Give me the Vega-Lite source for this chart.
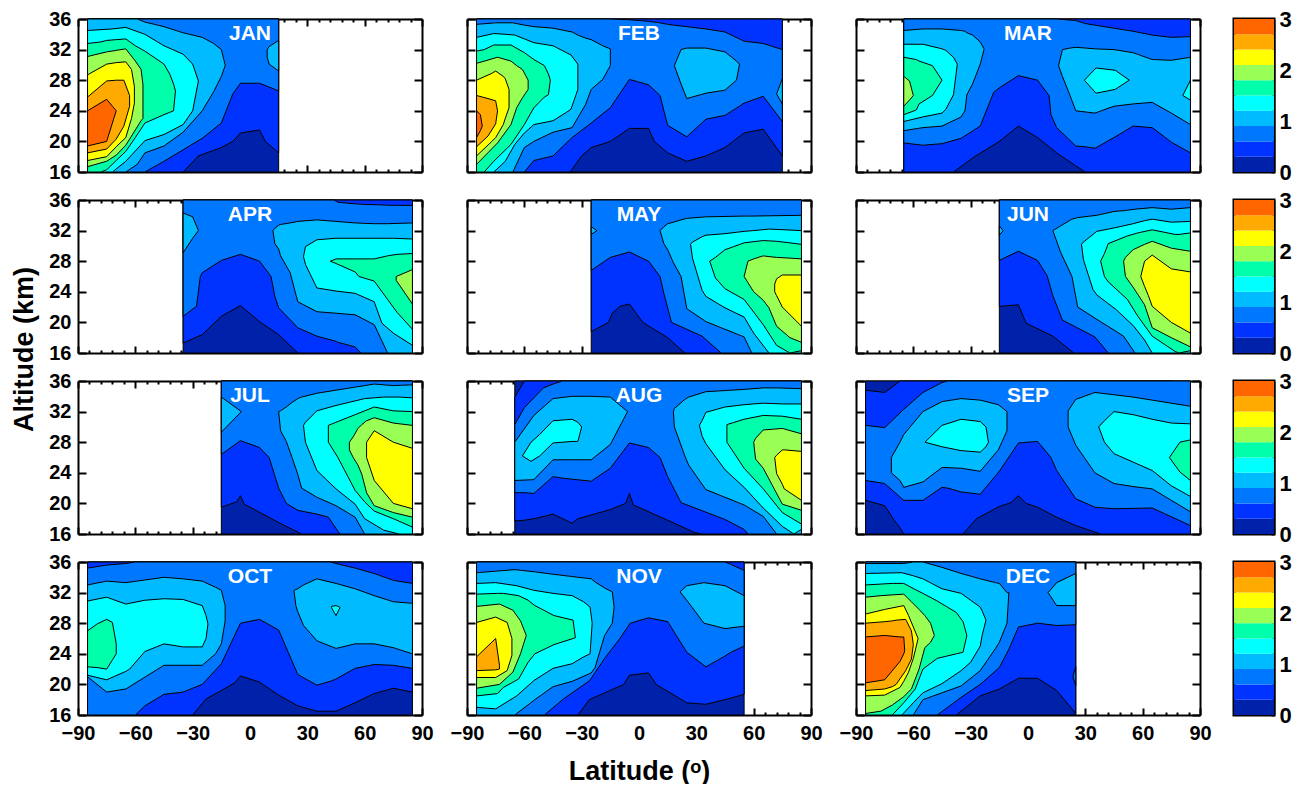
{"$schema":"https://vega.github.io/schema/vega-lite/v6.json","autosize":"pad","padding":{"left":9,"top":6,"right":0,"bottom":0},"background":"white",
"config":{"view":{"stroke":null},"font":"Liberation Sans","axis":{"zindex":1,"grid":false,"labelFlush":false,"labelOverlap":false,"domainColor":"black","domainWidth":2,"tickColor":"black","tickWidth":2,"labelFont":"Liberation Sans","labelFontWeight":"bold","labelFontSize":20,"labelColor":"black","title":null,"titleFont":"Liberation Sans","titleFontWeight":"bold","titleFontSize":27,"titleColor":"black"},"area":{"stroke":"black","strokeWidth":1},"text":{"color":"white","fontWeight":"bold","fontSize":21}},
"datasets":{
"CB":[{"l":0,"a":0,"b":0.3},{"l":1,"a":0.3,"b":0.6},{"l":2,"a":0.6,"b":0.9},{"l":3,"a":0.9,"b":1.2},{"l":4,"a":1.2,"b":1.5},{"l":5,"a":1.5,"b":1.8},{"l":6,"a":1.8,"b":2.1},{"l":7,"a":2.1,"b":2.4},{"l":8,"a":2.4,"b":2.7},{"l":9,"a":2.7,"b":3}],
"JAN":[{"l":0,"x":-85,"a":16,"b":36},{"l":0,"x":15,"a":16,"b":36},
{"l":1,"x":-85,"a":16,"b":36},{"l":1,"x":-35,"a":16,"b":36},{"l":1,"x":-27,"a":18.1,"b":36},{"l":1,"x":-15,"a":19.2,"b":36},{"l":1,"x":-9,"a":20,"b":36},{"l":1,"x":-5,"a":21.1,"b":36},{"l":1,"x":5,"a":21.5,"b":36},{"l":1,"x":8,"a":20,"b":36},{"l":1,"x":15,"a":18.5,"b":36},
{"l":2,"x":-85,"a":16,"b":36},{"l":2,"x":-55,"a":16,"b":36},{"l":2,"x":-45,"a":17.4,"b":36},{"l":2,"x":-35,"a":18.9,"b":36},{"l":2,"x":-25,"a":20.4,"b":36},{"l":2,"x":-15,"a":22.4,"b":36},{"l":2,"x":-9,"a":26.2,"b":36},{"l":2,"x":-5,"a":27.6,"b":36},{"l":2,"x":5,"a":27.6,"b":36},{"l":2,"x":15,"a":26.6,"b":36},
{"l":3,"x":-85,"a":16,"b":36},{"l":3,"x":-65,"a":16,"b":36},{"l":3,"x":-59,"a":17,"b":36},{"l":3,"x":-55,"a":18.5,"b":35.6},{"l":3,"x":-45,"a":19.4,"b":35},{"l":3,"x":-35,"a":21.2,"b":34.2},{"l":3,"x":-25,"a":24,"b":33.6},{"l":3,"x":-19,"a":26.5,"b":32.8},{"l":3,"x":-15,"a":28.5,"b":32},{"l":3,"x":-13,"a":29.9,"b":30},
{"l":3,"s":"b","x":9,"a":31,"b":32},{"l":3,"s":"b","x":10,"a":30.1,"b":32.4},{"l":3,"s":"b","x":15,"a":29.2,"b":33.2},
{"l":4,"x":-85,"a":16,"b":34.5},{"l":4,"x":-72,"a":16,"b":34.7},{"l":4,"x":-65,"a":17.4,"b":34.9},{"l":4,"x":-55,"a":20.1,"b":34},{"l":4,"x":-45,"a":20.9,"b":32.5},{"l":4,"x":-35,"a":22.2,"b":31.4},{"l":4,"x":-30,"a":24,"b":30.1},{"l":4,"x":-27,"a":27.9,"b":27.9},
{"l":5,"x":-85,"a":16,"b":32.8},{"l":5,"x":-78,"a":16,"b":33},{"l":5,"x":-75,"a":16.3,"b":33.2},{"l":5,"x":-70,"a":17.5,"b":33.3},{"l":5,"x":-65,"a":18.7,"b":33.4},{"l":5,"x":-60,"a":20.5,"b":32.5},{"l":5,"x":-55,"a":22.4,"b":31.8},{"l":5,"x":-45,"a":23.5,"b":30.1},{"l":5,"x":-42,"a":23.8,"b":28.8},{"l":5,"x":-40,"a":24,"b":27.5},{"l":5,"x":-39,"a":26.6,"b":26.6},
{"l":6,"x":-85,"a":16.7,"b":31.1},{"l":6,"x":-75,"a":17.4,"b":31.7},{"l":6,"x":-70,"a":18.2,"b":31.9},{"l":6,"x":-65,"a":19.5,"b":32.1},{"l":6,"x":-60,"a":21.5,"b":30.5},{"l":6,"x":-57,"a":22.7,"b":29.4},{"l":6,"x":-56,"a":23,"b":27.4},
{"l":7,"x":-85,"a":17.5,"b":28.7},{"l":7,"x":-75,"a":18,"b":30.1},{"l":7,"x":-70,"a":19.3,"b":30.3},{"l":7,"x":-65,"a":20.5,"b":30.4},{"l":7,"x":-62,"a":23,"b":29.4},{"l":7,"x":-60.5,"a":25,"b":27.2},
{"l":8,"x":-85,"a":18.5,"b":25.8},{"l":8,"x":-75,"a":19,"b":27.9},{"l":8,"x":-70,"a":20.3,"b":28},{"l":8,"x":-66,"a":22,"b":28},{"l":8,"x":-63,"a":24.6,"b":26},
{"l":9,"x":-85,"a":19.4,"b":24},{"l":9,"x":-75,"a":20,"b":25.5},{"l":9,"x":-72,"a":22.4,"b":24.6},{"l":9,"x":-70,"a":24,"b":24}],
"FEB":[{"l":0,"x":-85,"a":16,"b":36},{"l":0,"x":75,"a":16,"b":36},
{"l":1,"x":-85,"a":16,"b":36},{"l":1,"x":-36,"a":16,"b":36},{"l":1,"x":-30,"a":18.1,"b":36},{"l":1,"x":-25,"a":19.2,"b":36},{"l":1,"x":-15,"a":20,"b":36},{"l":1,"x":-5,"a":21.7,"b":36},{"l":1,"x":5,"a":21.7,"b":36},{"l":1,"x":8,"a":20,"b":36},{"l":1,"x":15,"a":18.5,"b":36},{"l":1,"x":25,"a":17.4,"b":36},{"l":1,"x":35,"a":18.1,"b":36},{"l":1,"x":45,"a":19.2,"b":36},{"l":1,"x":55,"a":21.1,"b":36},{"l":1,"x":65,"a":21.6,"b":36},{"l":1,"x":75,"a":18.1,"b":36},
{"l":2,"x":-85,"a":16,"b":36},{"l":2,"x":-60,"a":16,"b":36},{"l":2,"x":-55,"a":17.5,"b":36},{"l":2,"x":-45,"a":18.1,"b":36},{"l":2,"x":-35,"a":20.5,"b":36},{"l":2,"x":-25,"a":22.4,"b":36},{"l":2,"x":-15,"a":24.4,"b":36},{"l":2,"x":-5,"a":28.1,"b":35.9},{"l":2,"x":5,"a":27.4,"b":35.7},{"l":2,"x":11,"a":26,"b":35.5},{"l":2,"x":15,"a":22.1,"b":35.3},{"l":2,"x":25,"a":20.6,"b":35},{"l":2,"x":35,"a":22.9,"b":34.7},{"l":2,"x":45,"a":23.4,"b":34.3},{"l":2,"x":55,"a":25,"b":33.1},{"l":2,"x":65,"a":25.9,"b":32.8},{"l":2,"x":75,"a":22.6,"b":32},
{"l":3,"x":-85,"a":16,"b":35.3},{"l":3,"x":-75,"a":16,"b":35.5},{"l":3,"x":-66,"a":16,"b":35.5},{"l":3,"x":-60,"a":19.2,"b":35.2},{"l":3,"x":-55,"a":20,"b":35},{"l":3,"x":-45,"a":21.2,"b":34.8},{"l":3,"x":-35,"a":21.8,"b":34.3},{"l":3,"x":-32,"a":23.1,"b":33.9},{"l":3,"x":-28,"a":24.8,"b":33.5},{"l":3,"x":-25,"a":26.8,"b":33.3},{"l":3,"x":-19,"a":28.1,"b":32.5},{"l":3,"x":-15,"a":29.9,"b":32.1},
{"l":3,"s":"b","x":18.5,"a":29.9,"b":29.9},{"l":3,"s":"b","x":22,"a":27.5,"b":32},{"l":3,"s":"b","x":25,"a":25.6,"b":32.2},{"l":3,"s":"b","x":35,"a":26.3,"b":32.2},{"l":3,"s":"b","x":45,"a":26.7,"b":31.7},{"l":3,"s":"b","x":51,"a":28,"b":30.5},{"l":3,"s":"b","x":52.6,"a":30.1,"b":30.1},
{"l":3,"s":"c","x":72,"a":26.2,"b":26.2},{"l":3,"s":"c","x":75,"a":24.9,"b":28.2},
{"l":4,"x":-85,"a":16,"b":33.6},{"l":4,"x":-76,"a":16,"b":34.1},{"l":4,"x":-70,"a":17.4,"b":34},{"l":4,"x":-65,"a":19.6,"b":33.9},{"l":4,"x":-60,"a":21.1,"b":33.4},{"l":4,"x":-55,"a":22.2,"b":32.9},{"l":4,"x":-45,"a":22.7,"b":32.5},{"l":4,"x":-38,"a":23.8,"b":31.6},{"l":4,"x":-35.6,"a":24.2,"b":31.3},{"l":4,"x":-32,"a":26.8,"b":30.1},
{"l":5,"x":-85,"a":16,"b":31.8},{"l":5,"x":-81,"a":16,"b":32},{"l":5,"x":-76,"a":17.4,"b":32.6},{"l":5,"x":-67,"a":19.6,"b":32.6},{"l":5,"x":-60,"a":22.2,"b":31.6},{"l":5,"x":-55,"a":24.4,"b":30.7},{"l":5,"x":-49.5,"a":25.8,"b":29.9},{"l":5,"x":-47.4,"a":26.1,"b":28.8},{"l":5,"x":-46.4,"a":28,"b":28},
{"l":6,"x":-85,"a":17,"b":30.2},{"l":6,"x":-74,"a":19.8,"b":31},{"l":6,"x":-67,"a":22.2,"b":30.5},{"l":6,"x":-64,"a":24.4,"b":29.9},{"l":6,"x":-61,"a":25.7,"b":29.4},{"l":6,"x":-58,"a":26.8,"b":28},
{"l":7,"x":-85,"a":18.1,"b":28},{"l":7,"x":-77,"a":20,"b":28.9},{"l":7,"x":-75,"a":20.5,"b":29.2},{"l":7,"x":-71,"a":22.2,"b":28.5},{"l":7,"x":-70,"a":23,"b":28.2},{"l":7,"x":-68,"a":24.4,"b":26.8},
{"l":8,"x":-85,"a":19.3,"b":26},{"l":8,"x":-79,"a":20.7,"b":25.6},{"l":8,"x":-75,"a":22.3,"b":25.3},{"l":8,"x":-74,"a":24,"b":24},
{"l":9,"x":-85,"a":20.5,"b":24},{"l":9,"x":-83,"a":21.4,"b":23.5},{"l":9,"x":-82,"a":22,"b":22}],
"MAR":[{"l":0,"x":-65,"a":16,"b":36},{"l":0,"x":85,"a":16,"b":36},
{"l":1,"x":-65,"a":16,"b":36},{"l":1,"x":-39,"a":16,"b":36},{"l":1,"x":-28,"a":18,"b":36},{"l":1,"x":-15,"a":20,"b":36},{"l":1,"x":-5,"a":22,"b":36},{"l":1,"x":5,"a":20.5,"b":36},{"l":1,"x":15,"a":18.5,"b":36},{"l":1,"x":25,"a":16.8,"b":36},{"l":1,"x":30,"a":16,"b":36},{"l":1,"x":85,"a":16,"b":36},
{"l":2,"x":-65,"a":19.8,"b":36},{"l":2,"x":-55,"a":19.5,"b":36},{"l":2,"x":-45,"a":19.7,"b":36},{"l":2,"x":-35,"a":20.4,"b":36},{"l":2,"x":-25,"a":22,"b":36},{"l":2,"x":-18,"a":26.4,"b":36},{"l":2,"x":-15,"a":27,"b":36},{"l":2,"x":-5,"a":28.6,"b":36},{"l":2,"x":5,"a":28,"b":36},{"l":2,"x":11,"a":26,"b":36},{"l":2,"x":12,"a":23.5,"b":36},{"l":2,"x":15,"a":21.8,"b":36},{"l":2,"x":25,"a":19.4,"b":35.8},{"l":2,"x":30,"a":19.3,"b":35.4},{"l":2,"x":35,"a":19.1,"b":35.2},{"l":2,"x":45,"a":20.5,"b":34.8},{"l":2,"x":55,"a":22,"b":34.4},{"l":2,"x":65,"a":21.8,"b":33.9},{"l":2,"x":75,"a":19.9,"b":33.6},{"l":2,"x":85,"a":18.5,"b":33.7},
{"l":3,"x":-65,"a":21.4,"b":34.5},{"l":3,"x":-55,"a":21.8,"b":34.7},{"l":3,"x":-45,"a":22,"b":34.7},{"l":3,"x":-35,"a":23.2,"b":34.5},{"l":3,"x":-33,"a":24,"b":34.4},{"l":3,"x":-32,"a":26.1,"b":34.2},{"l":3,"x":-29,"a":27.5,"b":33.9},{"l":3,"x":-25,"a":30.1,"b":33},{"l":3,"x":-23,"a":32,"b":32.1},
{"l":3,"s":"b","x":16,"a":29.9,"b":29.9},{"l":3,"s":"b","x":18,"a":28.5,"b":32},{"l":3,"s":"b","x":22,"a":26,"b":32.2},{"l":3,"s":"b","x":25,"a":24,"b":32.3},{"l":3,"s":"b","x":35,"a":23.7,"b":32.1},{"l":3,"s":"b","x":45,"a":24.6,"b":32},{"l":3,"s":"b","x":55,"a":24.9,"b":31.6},{"l":3,"s":"b","x":65,"a":25.1,"b":30.7},{"l":3,"s":"b","x":75,"a":23.7,"b":30.6},{"l":3,"s":"b","x":85,"a":22.2,"b":31},
{"l":4,"x":-65,"a":22.6,"b":32.7},{"l":4,"x":-55,"a":23.2,"b":32.7},{"l":4,"x":-45,"a":23.7,"b":32.1},{"l":4,"x":-43,"a":24.2,"b":31.9},{"l":4,"x":-39,"a":26.1,"b":31},{"l":4,"x":-37,"a":30.1,"b":30.1},
{"l":4,"s":"b","x":29.5,"a":28,"b":28},{"l":4,"s":"b","x":35.6,"a":26.3,"b":29.6},{"l":4,"s":"b","x":45.6,"a":26.8,"b":29.3},{"l":4,"s":"b","x":53,"a":28,"b":28},
{"l":4,"s":"c","x":81,"a":26,"b":26},{"l":4,"s":"c","x":85,"a":25.4,"b":28},
{"l":5,"x":-65,"a":23.5,"b":31},{"l":5,"x":-58.5,"a":24.1,"b":30.7},{"l":5,"x":-57,"a":24.9,"b":30.5},{"l":5,"x":-50,"a":26,"b":29.9},{"l":5,"x":-45,"a":28,"b":28},
{"l":6,"x":-65,"a":24.6,"b":28.5},{"l":6,"x":-62,"a":25.4,"b":27.9},{"l":6,"x":-60,"a":26,"b":26}],
"APR":[{"l":0,"x":-35,"a":16,"b":36},{"l":0,"x":85,"a":16,"b":36},
{"l":1,"x":-35,"a":17.3,"b":36},{"l":1,"x":-25,"a":18.4,"b":36},{"l":1,"x":-15,"a":20.8,"b":36},{"l":1,"x":-5,"a":22.2,"b":36},{"l":1,"x":5,"a":20.1,"b":36},{"l":1,"x":15,"a":18.4,"b":36},{"l":1,"x":25,"a":16,"b":36},{"l":1,"x":85,"a":16,"b":36},
{"l":2,"x":-35,"a":20.8,"b":36},{"l":2,"x":-28,"a":22.1,"b":36},{"l":2,"x":-26,"a":26,"b":36},{"l":2,"x":-25,"a":26.5,"b":36},{"l":2,"x":-15,"a":28.1,"b":36},{"l":2,"x":-5,"a":28.9,"b":36},{"l":2,"x":5,"a":28,"b":36},{"l":2,"x":11,"a":26,"b":36},{"l":2,"x":13,"a":23.4,"b":36},{"l":2,"x":15,"a":21.9,"b":36},{"l":2,"x":25,"a":19.3,"b":36},{"l":2,"x":35,"a":18.2,"b":36},{"l":2,"x":44,"a":17.6,"b":36},{"l":2,"x":46,"a":17.4,"b":35.7},{"l":2,"x":55,"a":16.8,"b":35.5},{"l":2,"x":58,"a":16,"b":35.45},{"l":2,"x":75,"a":16,"b":35.3},{"l":2,"x":85,"a":16,"b":35.3},
{"l":3,"x":-35,"a":29.1,"b":34.3},{"l":3,"x":-30,"a":31,"b":33.8},{"l":3,"x":-27,"a":32,"b":32},
{"l":3,"s":"b","x":12,"a":32,"b":32},{"l":3,"s":"b","x":13,"a":30.3,"b":32.3},{"l":3,"s":"b","x":15,"a":29.6,"b":32.7},{"l":3,"s":"b","x":16,"a":28.7,"b":32.8},{"l":3,"s":"b","x":21,"a":26.5,"b":33},{"l":3,"s":"b","x":25,"a":22.7,"b":33.2},{"l":3,"s":"b","x":35,"a":21.4,"b":33.4},{"l":3,"s":"b","x":55,"a":21,"b":33},{"l":3,"s":"b","x":65,"a":19.7,"b":32.9},{"l":3,"s":"b","x":72,"a":16,"b":32.9},{"l":3,"s":"b","x":85,"a":16,"b":33},
{"l":4,"x":28,"a":28.6,"b":28.6},{"l":4,"x":29,"a":27.6,"b":29.9},{"l":4,"x":35,"a":24.5,"b":30.8},{"l":4,"x":45,"a":24.1,"b":31},{"l":4,"x":55,"a":23.8,"b":31},{"l":4,"x":65,"a":22.7,"b":31},{"l":4,"x":69,"a":19.9,"b":31},{"l":4,"x":75,"a":18.6,"b":31},{"l":4,"x":85,"a":17,"b":30.9},
{"l":5,"x":42,"a":28,"b":28},{"l":5,"x":45,"a":27.7,"b":28.3},{"l":5,"x":55,"a":26.6,"b":28.3},{"l":5,"x":57,"a":26,"b":28.3},{"l":5,"x":65,"a":25.4,"b":28.3},{"l":5,"x":72,"a":23,"b":28.7},{"l":5,"x":77,"a":21.3,"b":28.9},{"l":5,"x":85,"a":19.1,"b":29},
{"l":6,"x":76.5,"a":25.5,"b":26},{"l":6,"x":85,"a":22.4,"b":26.9}],
"MAY":[{"l":0,"x":-25,"a":16,"b":36},{"l":0,"x":85,"a":16,"b":36},
{"l":1,"x":-25,"a":18.8,"b":36},{"l":1,"x":-16,"a":20,"b":36},{"l":1,"x":-14,"a":21.2,"b":36},{"l":1,"x":-10,"a":22.1,"b":36},{"l":1,"x":-5,"a":22.4,"b":36},{"l":1,"x":2,"a":20,"b":36},{"l":1,"x":15,"a":18,"b":36},{"l":1,"x":24,"a":16,"b":36},{"l":1,"x":85,"a":16,"b":36},
{"l":2,"x":-25,"a":26.8,"b":36},{"l":2,"x":-15,"a":28.5,"b":36},{"l":2,"x":-5,"a":29.2,"b":36},{"l":2,"x":5,"a":28,"b":36},{"l":2,"x":11,"a":26,"b":36},{"l":2,"x":13,"a":23.8,"b":36},{"l":2,"x":17,"a":20,"b":36},{"l":2,"x":33,"a":18.2,"b":36},{"l":2,"x":43,"a":16,"b":36},{"l":2,"x":85,"a":16,"b":36},
{"l":3,"x":-25,"a":31.5,"b":32.5},{"l":3,"x":-22,"a":32,"b":32},
{"l":3,"s":"b","x":11,"a":32,"b":32},{"l":3,"s":"b","x":13,"a":30.3,"b":32.5},{"l":3,"s":"b","x":15,"a":29.5,"b":32.9},{"l":3,"s":"b","x":18,"a":27.8,"b":33.1},{"l":3,"s":"b","x":22,"a":26,"b":33.4},{"l":3,"s":"b","x":25,"a":21.8,"b":33.6},{"l":3,"s":"b","x":35,"a":20.1,"b":33.8},{"l":3,"s":"b","x":55,"a":18.1,"b":33.9},{"l":3,"s":"b","x":59,"a":16,"b":33.9},{"l":3,"s":"b","x":85,"a":16,"b":34},
{"l":4,"x":27,"a":30.2,"b":30.2},{"l":4,"x":28,"a":28.4,"b":30.5},{"l":4,"x":33,"a":24.2,"b":31.2},{"l":4,"x":35,"a":23.4,"b":31.4},{"l":4,"x":45,"a":21.9,"b":31.6},{"l":4,"x":55,"a":20.7,"b":31.9},{"l":4,"x":60,"a":18.6,"b":32},{"l":4,"x":68,"a":16,"b":32.2},{"l":4,"x":85,"a":16,"b":32},
{"l":5,"x":37,"a":28,"b":28},{"l":5,"x":40,"a":25.8,"b":28.5},{"l":5,"x":45,"a":24.4,"b":29.5},{"l":5,"x":55,"a":23,"b":30.4},{"l":5,"x":65,"a":19.7,"b":30.7},{"l":5,"x":72,"a":17,"b":30.6},{"l":5,"x":79,"a":16,"b":30.4},{"l":5,"x":85,"a":16.3,"b":30.2},
{"l":6,"x":55,"a":26,"b":26},{"l":6,"x":57,"a":25.2,"b":28},{"l":6,"x":60,"a":24,"b":28.3},{"l":6,"x":65,"a":22.9,"b":28.7},{"l":6,"x":68,"a":21.9,"b":28.6},{"l":6,"x":72,"a":19.5,"b":28.5},{"l":6,"x":79,"a":18,"b":28.4},{"l":6,"x":85,"a":17.4,"b":28.3},
{"l":7,"x":71,"a":24,"b":25},{"l":7,"x":72,"a":23.5,"b":25.7},{"l":7,"x":75,"a":22,"b":26.2},{"l":7,"x":85,"a":19.5,"b":26.2}],
"JUN":[{"l":0,"x":-15,"a":16,"b":36},{"l":0,"x":85,"a":16,"b":36},
{"l":1,"x":-15,"a":22.1,"b":36},{"l":1,"x":-5,"a":22.3,"b":36},{"l":1,"x":-1,"a":19.9,"b":36},{"l":1,"x":13,"a":18.2,"b":36},{"l":1,"x":24,"a":16,"b":36},{"l":1,"x":85,"a":16,"b":36},
{"l":2,"x":-15,"a":28.1,"b":36},{"l":2,"x":-5,"a":29.3,"b":36},{"l":2,"x":5,"a":28.1,"b":36},{"l":2,"x":10,"a":26.1,"b":36},{"l":2,"x":13,"a":23.5,"b":36},{"l":2,"x":18,"a":20.3,"b":36},{"l":2,"x":35,"a":18.1,"b":36},{"l":2,"x":42,"a":16,"b":36},{"l":2,"x":85,"a":16,"b":36},
{"l":3,"x":-15,"a":31.4,"b":32.6},{"l":3,"x":-13,"a":32,"b":32},
{"l":3,"s":"b","x":13,"a":32,"b":32},{"l":3,"s":"b","x":17,"a":29.2,"b":32.6},{"l":3,"s":"b","x":23,"a":26,"b":33.5},{"l":3,"s":"b","x":26,"a":22,"b":33.7},{"l":3,"s":"b","x":36,"a":20.4,"b":34},{"l":3,"s":"b","x":45,"a":19,"b":34.5},{"l":3,"s":"b","x":50,"a":18.2,"b":34.6},{"l":3,"s":"b","x":56,"a":16,"b":34.8},{"l":3,"s":"b","x":65,"a":16,"b":35},{"l":3,"s":"b","x":75,"a":16,"b":34.8},{"l":3,"s":"b","x":85,"a":16,"b":35},
{"l":4,"x":28,"a":30.2,"b":30.2},{"l":4,"x":29,"a":28.2,"b":30.5},{"l":4,"x":34,"a":24.3,"b":31.5},{"l":4,"x":36,"a":23.6,"b":31.9},{"l":4,"x":46,"a":21.7,"b":32.4},{"l":4,"x":55,"a":19.6,"b":32.9},{"l":4,"x":61,"a":17.7,"b":33.3},{"l":4,"x":65,"a":16,"b":33.5},{"l":4,"x":75,"a":16,"b":33.1},{"l":4,"x":85,"a":16,"b":33.2},
{"l":5,"x":38,"a":28,"b":28},{"l":5,"x":40,"a":26,"b":29},{"l":5,"x":42,"a":25.3,"b":30.3},{"l":5,"x":52,"a":23,"b":31.3},{"l":5,"x":57.5,"a":20.8,"b":31.7},{"l":5,"x":65,"a":18.2,"b":32.1},{"l":5,"x":77,"a":16.2,"b":31.5},{"l":5,"x":79,"a":16,"b":31.5},{"l":5,"x":85,"a":16.3,"b":31.7},
{"l":6,"x":50,"a":28,"b":28},{"l":6,"x":51,"a":26,"b":28.5},{"l":6,"x":55,"a":24.6,"b":29.5},{"l":6,"x":61,"a":22.3,"b":30.2},{"l":6,"x":65,"a":19.3,"b":30.6},{"l":6,"x":75,"a":18,"b":29.7},{"l":6,"x":85,"a":16.8,"b":29.3},
{"l":7,"x":59,"a":26,"b":26},{"l":7,"x":61,"a":24.7,"b":28},{"l":7,"x":63,"a":23.5,"b":28.4},{"l":7,"x":65,"a":22.1,"b":28.8},{"l":7,"x":75,"a":20,"b":27},{"l":7,"x":85,"a":18.6,"b":26.6}],
"JUL":[{"l":0,"x":-15,"a":16,"b":36},{"l":0,"x":85,"a":16,"b":36},
{"l":1,"x":-15,"a":19.5,"b":36},{"l":1,"x":-7,"a":20.2,"b":36},{"l":1,"x":-5,"a":21,"b":36},{"l":1,"x":-3,"a":19.9,"b":36},{"l":1,"x":15,"a":17.5,"b":36},{"l":1,"x":27,"a":16,"b":36},{"l":1,"x":85,"a":16,"b":36},
{"l":2,"x":-15,"a":26.4,"b":36},{"l":2,"x":-5,"a":28.2,"b":36},{"l":2,"x":5,"a":27.3,"b":36},{"l":2,"x":10,"a":26,"b":36},{"l":2,"x":15,"a":22,"b":36},{"l":2,"x":19,"a":20,"b":36},{"l":2,"x":25,"a":19.1,"b":36},{"l":2,"x":35,"a":18.6,"b":36},{"l":2,"x":41,"a":18.2,"b":36},{"l":2,"x":47,"a":16,"b":36},{"l":2,"x":85,"a":16,"b":36},
{"l":3,"x":-15,"a":29.3,"b":33.9},{"l":3,"x":-4.5,"a":32,"b":32},
{"l":3,"s":"b","x":15,"a":32,"b":32},{"l":3,"s":"b","x":16,"a":29.5,"b":32.1},{"l":3,"s":"b","x":19,"a":28.1,"b":32.6},{"l":3,"s":"b","x":22,"a":26,"b":33.2},{"l":3,"s":"b","x":25,"a":23.8,"b":33.7},{"l":3,"s":"b","x":27,"a":22,"b":33.9},{"l":3,"s":"b","x":35,"a":20.8,"b":34.4},{"l":3,"s":"b","x":45,"a":19.7,"b":34.8},{"l":3,"s":"b","x":55,"a":18.2,"b":35.2},{"l":3,"s":"b","x":60,"a":16,"b":35.4},{"l":3,"s":"b","x":65,"a":16,"b":35.6},{"l":3,"s":"b","x":75,"a":16,"b":35.4},{"l":3,"s":"b","x":85,"a":16,"b":35.5},
{"l":4,"x":28,"a":30.2,"b":30.2},{"l":4,"x":29,"a":28,"b":30.6},{"l":4,"x":35,"a":24.3,"b":32.1},{"l":4,"x":45,"a":21.9,"b":32.8},{"l":4,"x":55,"a":19.9,"b":33.4},{"l":4,"x":60,"a":18,"b":33.7},{"l":4,"x":70,"a":16.5,"b":33.9},{"l":4,"x":78,"a":16,"b":33.9},{"l":4,"x":85,"a":16,"b":33.8},
{"l":5,"x":41,"a":28,"b":30.2},{"l":5,"x":46,"a":26,"b":30.7},{"l":5,"x":55,"a":21.7,"b":31.6},{"l":5,"x":60,"a":20.2,"b":32.1},{"l":5,"x":65,"a":19,"b":32.6},{"l":5,"x":75,"a":18,"b":32.1},{"l":5,"x":85,"a":16.9,"b":32},
{"l":6,"x":52,"a":27,"b":28},{"l":6,"x":54,"a":26,"b":28.7},{"l":6,"x":56.5,"a":25,"b":29.8},{"l":6,"x":58.5,"a":23.8,"b":30.3},{"l":6,"x":61,"a":21.4,"b":30.8},{"l":6,"x":65,"a":19.7,"b":31.2},{"l":6,"x":75,"a":18.8,"b":30.5},{"l":6,"x":85,"a":18.2,"b":30.2},
{"l":7,"x":61,"a":26,"b":28},{"l":7,"x":65,"a":23,"b":29.5},{"l":7,"x":75,"a":20,"b":28},{"l":7,"x":85,"a":19.3,"b":27.2}],
"AUG":[{"l":0,"x":-65,"a":16,"b":36},{"l":0,"x":85,"a":16,"b":36},
{"l":1,"x":-65,"a":17.7,"b":33.9},{"l":1,"x":-60,"a":17.8,"b":36},{"l":1,"x":-55,"a":18,"b":36},{"l":1,"x":-45,"a":18.6,"b":36},{"l":1,"x":-35,"a":17.4,"b":36},{"l":1,"x":-32,"a":18,"b":36},{"l":1,"x":-15,"a":19.2,"b":36},{"l":1,"x":-7,"a":20,"b":36},{"l":1,"x":-5,"a":21.3,"b":36},{"l":1,"x":-3,"a":19.8,"b":36},{"l":1,"x":15,"a":17.8,"b":36},{"l":1,"x":29,"a":16.2,"b":36},{"l":1,"x":33,"a":16,"b":36},{"l":1,"x":85,"a":16,"b":36},
{"l":2,"x":-65,"a":21.4,"b":30.3},{"l":2,"x":-60,"a":21.4,"b":32.5},{"l":2,"x":-55,"a":21.3,"b":33.8},{"l":2,"x":-50,"a":22.4,"b":35.1},{"l":2,"x":-45,"a":23.5,"b":35.6},{"l":2,"x":-40,"a":23.3,"b":36},{"l":2,"x":-25,"a":22.9,"b":36},{"l":2,"x":-15,"a":24.6,"b":36},{"l":2,"x":-5,"a":27.9,"b":36},{"l":2,"x":5,"a":27.3,"b":36},{"l":2,"x":11,"a":26,"b":36},{"l":2,"x":15,"a":23.5,"b":36},{"l":2,"x":22,"a":20.1,"b":36},{"l":2,"x":45,"a":17.9,"b":36},{"l":2,"x":55,"a":16.6,"b":36},{"l":2,"x":57,"a":16,"b":36},{"l":2,"x":85,"a":16,"b":36},
{"l":3,"x":-65,"a":23,"b":28},{"l":3,"x":-55,"a":23.1,"b":31.5},{"l":3,"x":-45,"a":25.7,"b":33.7},{"l":3,"x":-35,"a":25.7,"b":34},{"l":3,"x":-25,"a":25.7,"b":34},{"l":3,"x":-15,"a":27.7,"b":33.9},{"l":3,"x":-6,"a":32,"b":32},
{"l":3,"s":"b","x":18,"a":32,"b":32},{"l":3,"s":"b","x":18.5,"a":30,"b":32.4},{"l":3,"s":"b","x":24,"a":26.2,"b":33.6},{"l":3,"s":"b","x":26,"a":25,"b":33.9},{"l":3,"s":"b","x":35,"a":21.8,"b":34.6},{"l":3,"s":"b","x":55,"a":19.8,"b":34.9},{"l":3,"s":"b","x":65,"a":18.3,"b":35.1},{"l":3,"s":"b","x":72,"a":16,"b":35.1},{"l":3,"s":"b","x":85,"a":16,"b":35},
{"l":4,"x":-61,"a":26.2,"b":26.2},{"l":4,"x":-56.5,"a":25.5,"b":28},{"l":4,"x":-52,"a":26.2,"b":29},{"l":4,"x":-45,"a":27.9,"b":30.8},{"l":4,"x":-35,"a":28.1,"b":31},{"l":4,"x":-32,"a":28.1,"b":30.6},{"l":4,"x":-30,"a":30,"b":30},
{"l":4,"s":"b","x":31.6,"a":30.2,"b":30.2},{"l":4,"s":"b","x":33,"a":28.8,"b":30.8},{"l":4,"s":"b","x":35,"a":27.8,"b":31.9},{"l":4,"s":"b","x":45,"a":24.4,"b":32.6},{"l":4,"s":"b","x":55,"a":22.1,"b":32.9},{"l":4,"s":"b","x":65,"a":19.4,"b":33.1},{"l":4,"s":"b","x":75,"a":17,"b":33},{"l":4,"s":"b","x":81,"a":16,"b":33},{"l":4,"s":"b","x":85,"a":16.6,"b":33},
{"l":5,"x":46,"a":28,"b":30.3},{"l":5,"x":55,"a":24.6,"b":31},{"l":5,"x":65,"a":21.9,"b":31.5},{"l":5,"x":75,"a":18.8,"b":31.4},{"l":5,"x":85,"a":17.3,"b":31},
{"l":6,"x":60,"a":28,"b":28},{"l":6,"x":61,"a":25.8,"b":28.5},{"l":6,"x":65,"a":24.6,"b":29.6},{"l":6,"x":75,"a":19.9,"b":29.8},{"l":6,"x":85,"a":19.1,"b":29.1},
{"l":7,"x":71,"a":26,"b":26},{"l":7,"x":72,"a":23.9,"b":26.3},{"l":7,"x":75,"a":22.5,"b":27},{"l":7,"x":76,"a":21.9,"b":27},{"l":7,"x":85,"a":20.4,"b":26.8}],
"SEP":[{"l":0,"x":-85,"a":16,"b":36},{"l":0,"x":85,"a":16,"b":36},
{"l":1,"x":-85,"a":20.4,"b":34.8},{"l":1,"x":-75,"a":19.7,"b":34.5},{"l":1,"x":-70,"a":17.8,"b":35.4},{"l":1,"x":-67,"a":16.8,"b":36},{"l":1,"x":-65,"a":16,"b":36},{"l":1,"x":-34,"a":16,"b":36},{"l":1,"x":-27,"a":18,"b":36},{"l":1,"x":-15,"a":19.6,"b":36},{"l":1,"x":-9,"a":20.1,"b":36},{"l":1,"x":-5,"a":21,"b":36},{"l":1,"x":-1,"a":20,"b":36},{"l":1,"x":5,"a":19.5,"b":36},{"l":1,"x":15,"a":18.2,"b":36},{"l":1,"x":25,"a":17.1,"b":36},{"l":1,"x":38,"a":16,"b":36},{"l":1,"x":75,"a":16,"b":36},{"l":1,"x":85,"a":16,"b":35.2},
{"l":2,"x":-85,"a":23,"b":30.2},{"l":2,"x":-75,"a":22.6,"b":29.9},{"l":2,"x":-65,"a":20.4,"b":32.3},{"l":2,"x":-55,"a":20.4,"b":34.5},{"l":2,"x":-45,"a":22.1,"b":35.8},{"l":2,"x":-42,"a":22,"b":36},{"l":2,"x":-35,"a":21.5,"b":36},{"l":2,"x":-25,"a":21.2,"b":36},{"l":2,"x":-15,"a":24.2,"b":36},{"l":2,"x":-5,"a":27.9,"b":36},{"l":2,"x":5,"a":28.1,"b":36},{"l":2,"x":12,"a":26,"b":36},{"l":2,"x":15,"a":24.3,"b":36},{"l":2,"x":25,"a":20.6,"b":36},{"l":2,"x":35,"a":19.5,"b":36},{"l":2,"x":45,"a":19.3,"b":36},{"l":2,"x":65,"a":19.4,"b":36},{"l":2,"x":85,"a":17.1,"b":36},
{"l":3,"x":-71.5,"a":24,"b":26},{"l":3,"x":-67,"a":23,"b":28},{"l":3,"x":-65,"a":22.1,"b":29},{"l":3,"x":-55,"a":22.8,"b":32},{"l":3,"x":-45,"a":24.7,"b":33.3},{"l":3,"x":-35,"a":24.6,"b":33.7},{"l":3,"x":-25,"a":24.2,"b":33.5},{"l":3,"x":-15.5,"a":27,"b":32.9},{"l":3,"x":-11,"a":29.5,"b":32},
{"l":3,"s":"b","x":21,"a":30,"b":32.1},{"l":3,"s":"b","x":25,"a":27.6,"b":33.6},{"l":3,"s":"b","x":35,"a":24,"b":34.5},{"l":3,"s":"b","x":45,"a":22.6,"b":34.2},{"l":3,"s":"b","x":55,"a":22.2,"b":33.9},{"l":3,"s":"b","x":65,"a":21.9,"b":33.5},{"l":3,"s":"b","x":85,"a":18.9,"b":32.7},
{"l":4,"x":-53.9,"a":28,"b":28},{"l":4,"x":-45,"a":27.4,"b":30.2},{"l":4,"x":-35,"a":26.9,"b":31},{"l":4,"x":-25,"a":26.7,"b":30.7},{"l":4,"x":-22,"a":27.4,"b":30},{"l":4,"x":-20.7,"a":28,"b":28},
{"l":4,"s":"b","x":37,"a":30,"b":30},{"l":4,"s":"b","x":40,"a":28,"b":30.8},{"l":4,"s":"b","x":45,"a":26.5,"b":32},{"l":4,"s":"b","x":55,"a":25.4,"b":31.6},{"l":4,"s":"b","x":65,"a":24.3,"b":31},{"l":4,"s":"b","x":75,"a":22.3,"b":30.5},{"l":4,"s":"b","x":85,"a":20.9,"b":30.4},
{"l":5,"x":74,"a":26,"b":26},{"l":5,"x":79.5,"a":24.1,"b":28},{"l":5,"x":85,"a":23,"b":28.3}],
"OCT":[{"l":0,"x":-85,"a":16,"b":36},{"l":0,"x":85,"a":16,"b":36},
{"l":1,"x":-85,"a":16,"b":36},{"l":1,"x":-30,"a":16,"b":36},{"l":1,"x":-23,"a":18.1,"b":36},{"l":1,"x":-15,"a":19.2,"b":36},{"l":1,"x":-8,"a":20.2,"b":36},{"l":1,"x":-5,"a":21.1,"b":36},{"l":1,"x":5,"a":20.3,"b":36},{"l":1,"x":15,"a":18.6,"b":36},{"l":1,"x":25,"a":17.2,"b":36},{"l":1,"x":35,"a":16.5,"b":36},{"l":1,"x":45,"a":16.5,"b":36},{"l":1,"x":55,"a":17.6,"b":36},{"l":1,"x":65,"a":18.8,"b":36},{"l":1,"x":75,"a":19.5,"b":36},{"l":1,"x":85,"a":19,"b":36},
{"l":2,"x":-85,"a":16,"b":35.2},{"l":2,"x":-75,"a":16,"b":35.6},{"l":2,"x":-65,"a":16,"b":35.8},{"l":2,"x":-60,"a":16,"b":36},{"l":2,"x":-55,"a":17.2,"b":36},{"l":2,"x":-45,"a":18.7,"b":36},{"l":2,"x":-35,"a":19,"b":36},{"l":2,"x":-25,"a":20,"b":36},{"l":2,"x":-15,"a":22.7,"b":36},{"l":2,"x":-5,"a":28,"b":36},{"l":2,"x":5,"a":28.5,"b":36},{"l":2,"x":15,"a":27.1,"b":36},{"l":2,"x":20,"a":24.2,"b":36},{"l":2,"x":25,"a":21.3,"b":36},{"l":2,"x":35,"a":19.9,"b":36},{"l":2,"x":42,"a":20.4,"b":36},{"l":2,"x":45,"a":20.7,"b":35.8},{"l":2,"x":55,"a":22.1,"b":35.2},{"l":2,"x":65,"a":22.6,"b":34.5},{"l":2,"x":75,"a":22.5,"b":33.6},{"l":2,"x":85,"a":22.1,"b":33.2},
{"l":3,"x":-85,"a":21,"b":33},{"l":3,"x":-75,"a":19,"b":33.5},{"l":3,"x":-65,"a":19.4,"b":33.3},{"l":3,"x":-45,"a":22.5,"b":34},{"l":3,"x":-35,"a":22.5,"b":33.8},{"l":3,"x":-25,"a":22.5,"b":33.5},{"l":3,"x":-18,"a":24,"b":32.7},{"l":3,"x":-15,"a":25.3,"b":32.3},{"l":3,"x":-13,"a":28.3,"b":30.3},
{"l":3,"s":"b","x":23,"a":32.3,"b":32.3},{"l":3,"s":"b","x":24,"a":30.3,"b":32.4},{"l":3,"s":"b","x":25,"a":29.5,"b":32.5},{"l":3,"s":"b","x":28,"a":27.7,"b":33},{"l":3,"s":"b","x":35,"a":25.7,"b":33.8},{"l":3,"s":"b","x":45,"a":24.7,"b":33.2},{"l":3,"s":"b","x":55,"a":25.3,"b":32.5},{"l":3,"s":"b","x":65,"a":25.3,"b":31.6},{"l":3,"s":"b","x":75,"a":24.8,"b":30.8},{"l":3,"s":"b","x":85,"a":24,"b":30.6},
{"l":4,"x":-85,"a":21.2,"b":30.9},{"l":4,"x":-75,"a":20.6,"b":31.4},{"l":4,"x":-65,"a":21.7,"b":30.5},{"l":4,"x":-63,"a":22,"b":30.6},{"l":4,"x":-55,"a":24.3,"b":31},{"l":4,"x":-45,"a":25.3,"b":31.2},{"l":4,"x":-35,"a":24.9,"b":31.1},{"l":4,"x":-25,"a":24.9,"b":30.3},{"l":4,"x":-23,"a":26,"b":29},{"l":4,"x":-22,"a":27.9,"b":27.9},
{"l":4,"s":"b","x":42.7,"a":30,"b":30.2},{"l":4,"s":"b","x":45,"a":29,"b":30.3},{"l":4,"s":"b","x":47,"a":30,"b":30.1},
{"l":5,"x":-85,"a":22.3,"b":27},{"l":5,"x":-80,"a":22.2,"b":27.9},{"l":5,"x":-75,"a":22,"b":28.5},{"l":5,"x":-72,"a":23.2,"b":28.1},{"l":5,"x":-70,"a":24,"b":25.3}],
"NOV":[{"l":0,"x":-85,"a":16,"b":36},{"l":0,"x":55,"a":16,"b":36},
{"l":1,"x":-85,"a":16,"b":36},{"l":1,"x":-32,"a":16,"b":36},{"l":1,"x":-26,"a":18,"b":36},{"l":1,"x":-8,"a":20,"b":36},{"l":1,"x":-5,"a":21.2,"b":36},{"l":1,"x":5,"a":21.5,"b":36},{"l":1,"x":9,"a":20,"b":36},{"l":1,"x":25,"a":17.6,"b":36},{"l":1,"x":35,"a":17.4,"b":36},{"l":1,"x":45,"a":18,"b":36},{"l":1,"x":55,"a":18.7,"b":36},
{"l":2,"x":-85,"a":16,"b":36},{"l":2,"x":-49.5,"a":16,"b":36},{"l":2,"x":-39.5,"a":18.1,"b":36},{"l":2,"x":-25.8,"a":20.5,"b":36},{"l":2,"x":-18,"a":23.4,"b":36},{"l":2,"x":-10,"a":26,"b":36},{"l":2,"x":-4.6,"a":28,"b":36},{"l":2,"x":5,"a":28.7,"b":36},{"l":2,"x":15,"a":28.2,"b":36},{"l":2,"x":25,"a":24.2,"b":36},{"l":2,"x":35,"a":22.3,"b":36},{"l":2,"x":45,"a":23.7,"b":36},{"l":2,"x":48,"a":24.2,"b":35.7},{"l":2,"x":55,"a":25,"b":34.9},
{"l":3,"x":-85,"a":16,"b":34.6},{"l":3,"x":-65,"a":16,"b":35},{"l":3,"x":-54,"a":18.1,"b":34.7},{"l":3,"x":-45,"a":19.7,"b":34.4},{"l":3,"x":-35,"a":20.4,"b":34.1},{"l":3,"x":-25,"a":21.5,"b":33.8},{"l":3,"x":-23,"a":22.2,"b":33.4},{"l":3,"x":-18,"a":26.4,"b":32.6},{"l":3,"x":-14,"a":28,"b":32.1},{"l":3,"x":-13,"a":30.1,"b":30.1},
{"l":3,"s":"b","x":21.5,"a":32.1,"b":32.1},{"l":3,"s":"b","x":25,"a":31,"b":32.9},{"l":3,"s":"b","x":34,"a":28,"b":33.3},{"l":3,"s":"b","x":45,"a":27.3,"b":32.9},{"l":3,"s":"b","x":55,"a":27.6,"b":31.6},
{"l":4,"x":-85,"a":17,"b":33.2},{"l":4,"x":-75,"a":16.8,"b":33.3},{"l":4,"x":-64,"a":18.5,"b":32.9},{"l":4,"x":-55,"a":20.5,"b":32.3},{"l":4,"x":-45,"a":22.1,"b":31.9},{"l":4,"x":-35,"a":22.7,"b":31.6},{"l":4,"x":-29,"a":23.6,"b":30.8},{"l":4,"x":-25.6,"a":24,"b":30.1},{"l":4,"x":-24.5,"a":28,"b":28},
{"l":5,"x":-85,"a":18.5,"b":31.8},{"l":5,"x":-74,"a":18.8,"b":31.9},{"l":5,"x":-71,"a":19.6,"b":31.9},{"l":5,"x":-63,"a":20.7,"b":31.6},{"l":5,"x":-58,"a":22.9,"b":31},{"l":5,"x":-54.5,"a":24,"b":30.3},{"l":5,"x":-44.5,"a":25.2,"b":29},{"l":5,"x":-34.5,"a":26,"b":28.4},{"l":5,"x":-33.3,"a":26.1,"b":26.1},
{"l":6,"x":-85,"a":19.5,"b":30.2},{"l":6,"x":-73,"a":20,"b":30.5},{"l":6,"x":-66,"a":21.6,"b":29.7},{"l":6,"x":-62,"a":24,"b":28.3},{"l":6,"x":-59,"a":26.4,"b":26.4},
{"l":7,"x":-85,"a":20.9,"b":28.1},{"l":7,"x":-75,"a":20.9,"b":28.8},{"l":7,"x":-69,"a":21.8,"b":28.1},{"l":7,"x":-66.5,"a":23.8,"b":26},
{"l":8,"x":-85,"a":21.8,"b":23.6},{"l":8,"x":-75,"a":21.9,"b":26},{"l":8,"x":-73,"a":22,"b":22.5}],
"DEC":[{"l":0,"x":-85,"a":16,"b":36},{"l":0,"x":25,"a":16,"b":36},
{"l":1,"x":-85,"a":16,"b":36},{"l":1,"x":-37.5,"a":16,"b":36},{"l":1,"x":-25,"a":18.5,"b":36},{"l":1,"x":-15,"a":19.4,"b":36},{"l":1,"x":-5,"a":20.8,"b":36},{"l":1,"x":5,"a":20.8,"b":36},{"l":1,"x":15,"a":19.2,"b":36},{"l":1,"x":25,"a":16.2,"b":36},
{"l":2,"x":-85,"a":16,"b":36},{"l":2,"x":-47.5,"a":16,"b":36},{"l":2,"x":-35,"a":18.3,"b":36},{"l":2,"x":-25,"a":20,"b":36},{"l":2,"x":-15,"a":22.2,"b":36},{"l":2,"x":-10,"a":24.6,"b":36},{"l":2,"x":-5,"a":27.5,"b":36},{"l":2,"x":5,"a":28,"b":36},{"l":2,"x":15,"a":27.7,"b":36},{"l":2,"x":25,"a":27.8,"b":36},
{"l":2,"s":"b","x":23.5,"a":21,"b":21},{"l":2,"s":"b","x":25,"a":19.8,"b":22.3},
{"l":3,"x":-85,"a":16,"b":35.8},{"l":3,"x":-65,"a":16,"b":35.8},{"l":3,"x":-60,"a":16,"b":36},{"l":3,"x":-55,"a":18,"b":36},{"l":3,"x":-45,"a":18.9,"b":35.3},{"l":3,"x":-35,"a":19.8,"b":34.5},{"l":3,"x":-25,"a":21.8,"b":33.8},{"l":3,"x":-17,"a":24.7,"b":33.3},{"l":3,"x":-15,"a":25.5,"b":33.2},{"l":3,"x":-11,"a":28,"b":32},{"l":3,"x":-10,"a":32,"b":32},
{"l":3,"s":"b","x":10.5,"a":32,"b":32},{"l":3,"s":"b","x":15,"a":30.3,"b":33.3},{"l":3,"s":"b","x":25,"a":30.3,"b":34.5},
{"l":4,"x":-85,"a":16,"b":34.5},{"l":4,"x":-66,"a":16,"b":34.6},{"l":4,"x":-60,"a":17.6,"b":34.2},{"l":4,"x":-55,"a":18.9,"b":33.8},{"l":4,"x":-45,"a":20.1,"b":32.5},{"l":4,"x":-35,"a":21.8,"b":31.9},{"l":4,"x":-30,"a":22.9,"b":31},{"l":4,"x":-25,"a":25,"b":30.1},{"l":4,"x":-24,"a":26.4,"b":29.6},{"l":4,"x":-22,"a":28.4,"b":28.4},
{"l":5,"x":-85,"a":16,"b":33},{"l":5,"x":-71,"a":16,"b":33.2},{"l":5,"x":-65,"a":17.6,"b":33.2},{"l":5,"x":-59,"a":19.4,"b":32.4},{"l":5,"x":-55,"a":22,"b":31.9},{"l":5,"x":-47.5,"a":23.4,"b":30.9},{"l":5,"x":-37.5,"a":24,"b":29.4},{"l":5,"x":-34,"a":24.2,"b":28.2},{"l":5,"x":-32,"a":26.4,"b":26.4},
{"l":6,"x":-85,"a":16.2,"b":31.4},{"l":6,"x":-77,"a":16.5,"b":31.6},{"l":6,"x":-71,"a":17.3,"b":31.7},{"l":6,"x":-65,"a":18.4,"b":31.8},{"l":6,"x":-61,"a":19.4,"b":30.8},{"l":6,"x":-57,"a":22,"b":29.8},{"l":6,"x":-54,"a":24.8,"b":29},{"l":6,"x":-51,"a":25.5,"b":28},{"l":6,"x":-49,"a":26.4,"b":26.4},
{"l":7,"x":-85,"a":18.5,"b":29.2},{"l":7,"x":-75,"a":18.6,"b":29.8},{"l":7,"x":-67,"a":19.6,"b":30.2},{"l":7,"x":-65,"a":20.4,"b":30.3},{"l":7,"x":-62.5,"a":21.6,"b":29},{"l":7,"x":-60,"a":23.4,"b":27.5},{"l":7,"x":-57.5,"a":26,"b":26},
{"l":8,"x":-85,"a":19.2,"b":28},{"l":8,"x":-75,"a":19.4,"b":28.2},{"l":8,"x":-71,"a":19.7,"b":28.3},{"l":8,"x":-69,"a":20,"b":28.4},{"l":8,"x":-64,"a":21.8,"b":28.5},{"l":8,"x":-61,"a":23.3,"b":27},{"l":8,"x":-60,"a":25.2,"b":25.2},
{"l":9,"x":-85,"a":20.2,"b":26.2},{"l":9,"x":-75,"a":20.6,"b":26.4},{"l":9,"x":-67,"a":23,"b":26.2},{"l":9,"x":-65,"a":24,"b":26.2},{"l":9,"x":-64.5,"a":24.4,"b":24.4}]
},
"concat":[
{"width":355,"height":153,"layer":[{"data":{"name":"JAN"},"mark":"area","encoding":{"x":{"field":"x","type":"quantitative","scale":{"domain":[-90,90],"nice":false,"range":[0,344]},"axis":{"orient":"bottom","values":[-90,-84,-78,-72,-66,-60,-54,-48,-42,-36,-30,-24,-18,-12,-6,0,6,12,18,24,30,36,42,48,54,60,66,72,78,84,90],"labels":false,"tickSize":{"condition":{"test":"datum.value%30==0","value":-7},"value":-3}}},"y":{"field":"a","type":"quantitative","scale":{"domain":[16,36],"nice":false},"axis":{"orient":"left","values":[16,20,24,28,32,36],"tickSize":-8,"labelPadding":15}},"y2":{"field":"b"},"detail":{"field":"s"},"color":{"field":"l","type":"ordinal","scale":{"domain":[0,1,2,3,4,5,6,7,8,9],"range":["#0022aa","#0033ff","#0077ff","#00bbff","#00ffff","#00ffaa","#99ff55","#ffff00","#ffaa00","#ff6600"]},"legend":null}}},{"data":{"values":[{"t":"JAN"}]},"mark":"text","encoding":{"x":{"datum":0,"type":"quantitative","axis":{"orient":"top","values":[-90,-84,-78,-72,-66,-60,-54,-48,-42,-36,-30,-24,-18,-12,-6,0,6,12,18,24,30,36,42,48,54,60,66,72,78,84,90],"labels":false,"tickSize":{"condition":{"test":"datum.value%30==0","value":-7},"value":-3}}},"y":{"datum":34,"type":"quantitative","axis":{"orient":"right","values":[16,20,24,28,32,36],"labels":false,"tickSize":-8,"offset":-11}},"text":{"field":"t"}}}],"resolve":{"axis":{"x":"independent","y":"independent"}}},
{"width":355,"height":153,"layer":[{"data":{"name":"FEB"},"mark":"area","encoding":{"x":{"field":"x","type":"quantitative","scale":{"domain":[-90,90],"nice":false,"range":[0,344]},"axis":{"orient":"bottom","values":[-90,-84,-78,-72,-66,-60,-54,-48,-42,-36,-30,-24,-18,-12,-6,0,6,12,18,24,30,36,42,48,54,60,66,72,78,84,90],"labels":false,"tickSize":{"condition":{"test":"datum.value%30==0","value":-7},"value":-3}}},"y":{"field":"a","type":"quantitative","scale":{"domain":[16,36],"nice":false},"axis":{"orient":"left","values":[16,20,24,28,32,36],"tickSize":-8,"labels":false}},"y2":{"field":"b"},"detail":{"field":"s"},"color":{"field":"l","type":"ordinal","scale":{"domain":[0,1,2,3,4,5,6,7,8,9],"range":["#0022aa","#0033ff","#0077ff","#00bbff","#00ffff","#00ffaa","#99ff55","#ffff00","#ffaa00","#ff6600"]},"legend":null}}},{"data":{"values":[{"t":"FEB"}]},"mark":"text","encoding":{"x":{"datum":0,"type":"quantitative","axis":{"orient":"top","values":[-90,-84,-78,-72,-66,-60,-54,-48,-42,-36,-30,-24,-18,-12,-6,0,6,12,18,24,30,36,42,48,54,60,66,72,78,84,90],"labels":false,"tickSize":{"condition":{"test":"datum.value%30==0","value":-7},"value":-3}}},"y":{"datum":34,"type":"quantitative","axis":{"orient":"right","values":[16,20,24,28,32,36],"labels":false,"tickSize":-8,"offset":-11}},"text":{"field":"t"}}}],"resolve":{"axis":{"x":"independent","y":"independent"}}},
{"width":344,"height":153,"layer":[{"data":{"name":"MAR"},"mark":"area","encoding":{"x":{"field":"x","type":"quantitative","scale":{"domain":[-90,90],"nice":false,"range":[0,344]},"axis":{"orient":"bottom","values":[-90,-84,-78,-72,-66,-60,-54,-48,-42,-36,-30,-24,-18,-12,-6,0,6,12,18,24,30,36,42,48,54,60,66,72,78,84,90],"labels":false,"tickSize":{"condition":{"test":"datum.value%30==0","value":-7},"value":-3}}},"y":{"field":"a","type":"quantitative","scale":{"domain":[16,36],"nice":false},"axis":{"orient":"left","values":[16,20,24,28,32,36],"tickSize":-8,"labels":false}},"y2":{"field":"b"},"detail":{"field":"s"},"color":{"field":"l","type":"ordinal","scale":{"domain":[0,1,2,3,4,5,6,7,8,9],"range":["#0022aa","#0033ff","#0077ff","#00bbff","#00ffff","#00ffaa","#99ff55","#ffff00","#ffaa00","#ff6600"]},"legend":null}}},{"data":{"values":[{"t":"MAR"}]},"mark":"text","encoding":{"x":{"datum":0,"type":"quantitative","axis":{"orient":"top","values":[-90,-84,-78,-72,-66,-60,-54,-48,-42,-36,-30,-24,-18,-12,-6,0,6,12,18,24,30,36,42,48,54,60,66,72,78,84,90],"labels":false,"tickSize":{"condition":{"test":"datum.value%30==0","value":-7},"value":-3}}},"y":{"datum":34,"type":"quantitative","axis":{"orient":"right","values":[16,20,24,28,32,36],"labels":false,"tickSize":-8}},"text":{"field":"t"}}}],"resolve":{"axis":{"x":"independent","y":"independent"}}},
{"width":40,"height":153,"view":{"stroke":"black","strokeWidth":3},"data":{"name":"CB"},"mark":"rect","encoding":{"y":{"field":"a","type":"quantitative","scale":{"domain":[0,3],"nice":false},"axis":{"orient":"right","values":[0,1,2,3],"tickSize":-3,"labelPadding":8,"labelFontSize":22}},"y2":{"field":"b"},"color":{"field":"l","type":"ordinal","scale":{"domain":[0,1,2,3,4,5,6,7,8,9],"range":["#0022aa","#0033ff","#0077ff","#00bbff","#00ffff","#00ffaa","#99ff55","#ffff00","#ffaa00","#ff6600"]},"legend":null}}},
{"width":355,"height":153,"layer":[{"data":{"name":"APR"},"mark":"area","encoding":{"x":{"field":"x","type":"quantitative","scale":{"domain":[-90,90],"nice":false,"range":[0,344]},"axis":{"orient":"bottom","values":[-90,-84,-78,-72,-66,-60,-54,-48,-42,-36,-30,-24,-18,-12,-6,0,6,12,18,24,30,36,42,48,54,60,66,72,78,84,90],"labels":false,"tickSize":{"condition":{"test":"datum.value%30==0","value":-7},"value":-3}}},"y":{"field":"a","type":"quantitative","scale":{"domain":[16,36],"nice":false},"axis":{"orient":"left","values":[16,20,24,28,32,36],"tickSize":-8,"labelPadding":15,"title":"Altitude (km)","titleX":-40,"titleY":149,"titleAngle":-90}},"y2":{"field":"b"},"detail":{"field":"s"},"color":{"field":"l","type":"ordinal","scale":{"domain":[0,1,2,3,4,5,6,7,8,9],"range":["#0022aa","#0033ff","#0077ff","#00bbff","#00ffff","#00ffaa","#99ff55","#ffff00","#ffaa00","#ff6600"]},"legend":null}}},{"data":{"values":[{"t":"APR"}]},"mark":"text","encoding":{"x":{"datum":0,"type":"quantitative","axis":{"orient":"top","values":[-90,-84,-78,-72,-66,-60,-54,-48,-42,-36,-30,-24,-18,-12,-6,0,6,12,18,24,30,36,42,48,54,60,66,72,78,84,90],"labels":false,"tickSize":{"condition":{"test":"datum.value%30==0","value":-7},"value":-3}}},"y":{"datum":34,"type":"quantitative","axis":{"orient":"right","values":[16,20,24,28,32,36],"labels":false,"tickSize":-8,"offset":-11}},"text":{"field":"t"}}}],"resolve":{"axis":{"x":"independent","y":"independent"}}},
{"width":355,"height":153,"layer":[{"data":{"name":"MAY"},"mark":"area","encoding":{"x":{"field":"x","type":"quantitative","scale":{"domain":[-90,90],"nice":false,"range":[0,344]},"axis":{"orient":"bottom","values":[-90,-84,-78,-72,-66,-60,-54,-48,-42,-36,-30,-24,-18,-12,-6,0,6,12,18,24,30,36,42,48,54,60,66,72,78,84,90],"labels":false,"tickSize":{"condition":{"test":"datum.value%30==0","value":-7},"value":-3}}},"y":{"field":"a","type":"quantitative","scale":{"domain":[16,36],"nice":false},"axis":{"orient":"left","values":[16,20,24,28,32,36],"tickSize":-8,"labels":false}},"y2":{"field":"b"},"detail":{"field":"s"},"color":{"field":"l","type":"ordinal","scale":{"domain":[0,1,2,3,4,5,6,7,8,9],"range":["#0022aa","#0033ff","#0077ff","#00bbff","#00ffff","#00ffaa","#99ff55","#ffff00","#ffaa00","#ff6600"]},"legend":null}}},{"data":{"values":[{"t":"MAY"}]},"mark":"text","encoding":{"x":{"datum":0,"type":"quantitative","axis":{"orient":"top","values":[-90,-84,-78,-72,-66,-60,-54,-48,-42,-36,-30,-24,-18,-12,-6,0,6,12,18,24,30,36,42,48,54,60,66,72,78,84,90],"labels":false,"tickSize":{"condition":{"test":"datum.value%30==0","value":-7},"value":-3}}},"y":{"datum":34,"type":"quantitative","axis":{"orient":"right","values":[16,20,24,28,32,36],"labels":false,"tickSize":-8,"offset":-11}},"text":{"field":"t"}}}],"resolve":{"axis":{"x":"independent","y":"independent"}}},
{"width":344,"height":153,"layer":[{"data":{"name":"JUN"},"mark":"area","encoding":{"x":{"field":"x","type":"quantitative","scale":{"domain":[-90,90],"nice":false,"range":[0,344]},"axis":{"orient":"bottom","values":[-90,-84,-78,-72,-66,-60,-54,-48,-42,-36,-30,-24,-18,-12,-6,0,6,12,18,24,30,36,42,48,54,60,66,72,78,84,90],"labels":false,"tickSize":{"condition":{"test":"datum.value%30==0","value":-7},"value":-3}}},"y":{"field":"a","type":"quantitative","scale":{"domain":[16,36],"nice":false},"axis":{"orient":"left","values":[16,20,24,28,32,36],"tickSize":-8,"labels":false}},"y2":{"field":"b"},"detail":{"field":"s"},"color":{"field":"l","type":"ordinal","scale":{"domain":[0,1,2,3,4,5,6,7,8,9],"range":["#0022aa","#0033ff","#0077ff","#00bbff","#00ffff","#00ffaa","#99ff55","#ffff00","#ffaa00","#ff6600"]},"legend":null}}},{"data":{"values":[{"t":"JUN"}]},"mark":"text","encoding":{"x":{"datum":0,"type":"quantitative","axis":{"orient":"top","values":[-90,-84,-78,-72,-66,-60,-54,-48,-42,-36,-30,-24,-18,-12,-6,0,6,12,18,24,30,36,42,48,54,60,66,72,78,84,90],"labels":false,"tickSize":{"condition":{"test":"datum.value%30==0","value":-7},"value":-3}}},"y":{"datum":34,"type":"quantitative","axis":{"orient":"right","values":[16,20,24,28,32,36],"labels":false,"tickSize":-8}},"text":{"field":"t"}}}],"resolve":{"axis":{"x":"independent","y":"independent"}}},
{"width":40,"height":153,"view":{"stroke":"black","strokeWidth":3},"data":{"name":"CB"},"mark":"rect","encoding":{"y":{"field":"a","type":"quantitative","scale":{"domain":[0,3],"nice":false},"axis":{"orient":"right","values":[0,1,2,3],"tickSize":-3,"labelPadding":8,"labelFontSize":22}},"y2":{"field":"b"},"color":{"field":"l","type":"ordinal","scale":{"domain":[0,1,2,3,4,5,6,7,8,9],"range":["#0022aa","#0033ff","#0077ff","#00bbff","#00ffff","#00ffaa","#99ff55","#ffff00","#ffaa00","#ff6600"]},"legend":null}}},
{"width":355,"height":153,"layer":[{"data":{"name":"JUL"},"mark":"area","encoding":{"x":{"field":"x","type":"quantitative","scale":{"domain":[-90,90],"nice":false,"range":[0,344]},"axis":{"orient":"bottom","values":[-90,-84,-78,-72,-66,-60,-54,-48,-42,-36,-30,-24,-18,-12,-6,0,6,12,18,24,30,36,42,48,54,60,66,72,78,84,90],"labels":false,"tickSize":{"condition":{"test":"datum.value%30==0","value":-7},"value":-3}}},"y":{"field":"a","type":"quantitative","scale":{"domain":[16,36],"nice":false},"axis":{"orient":"left","values":[16,20,24,28,32,36],"tickSize":-8,"labelPadding":15}},"y2":{"field":"b"},"detail":{"field":"s"},"color":{"field":"l","type":"ordinal","scale":{"domain":[0,1,2,3,4,5,6,7,8,9],"range":["#0022aa","#0033ff","#0077ff","#00bbff","#00ffff","#00ffaa","#99ff55","#ffff00","#ffaa00","#ff6600"]},"legend":null}}},{"data":{"values":[{"t":"JUL"}]},"mark":"text","encoding":{"x":{"datum":0,"type":"quantitative","axis":{"orient":"top","values":[-90,-84,-78,-72,-66,-60,-54,-48,-42,-36,-30,-24,-18,-12,-6,0,6,12,18,24,30,36,42,48,54,60,66,72,78,84,90],"labels":false,"tickSize":{"condition":{"test":"datum.value%30==0","value":-7},"value":-3}}},"y":{"datum":34,"type":"quantitative","axis":{"orient":"right","values":[16,20,24,28,32,36],"labels":false,"tickSize":-8,"offset":-11}},"text":{"field":"t"}}}],"resolve":{"axis":{"x":"independent","y":"independent"}}},
{"width":355,"height":153,"layer":[{"data":{"name":"AUG"},"mark":"area","encoding":{"x":{"field":"x","type":"quantitative","scale":{"domain":[-90,90],"nice":false,"range":[0,344]},"axis":{"orient":"bottom","values":[-90,-84,-78,-72,-66,-60,-54,-48,-42,-36,-30,-24,-18,-12,-6,0,6,12,18,24,30,36,42,48,54,60,66,72,78,84,90],"labels":false,"tickSize":{"condition":{"test":"datum.value%30==0","value":-7},"value":-3}}},"y":{"field":"a","type":"quantitative","scale":{"domain":[16,36],"nice":false},"axis":{"orient":"left","values":[16,20,24,28,32,36],"tickSize":-8,"labels":false}},"y2":{"field":"b"},"detail":{"field":"s"},"color":{"field":"l","type":"ordinal","scale":{"domain":[0,1,2,3,4,5,6,7,8,9],"range":["#0022aa","#0033ff","#0077ff","#00bbff","#00ffff","#00ffaa","#99ff55","#ffff00","#ffaa00","#ff6600"]},"legend":null}}},{"data":{"values":[{"t":"AUG"}]},"mark":"text","encoding":{"x":{"datum":0,"type":"quantitative","axis":{"orient":"top","values":[-90,-84,-78,-72,-66,-60,-54,-48,-42,-36,-30,-24,-18,-12,-6,0,6,12,18,24,30,36,42,48,54,60,66,72,78,84,90],"labels":false,"tickSize":{"condition":{"test":"datum.value%30==0","value":-7},"value":-3}}},"y":{"datum":34,"type":"quantitative","axis":{"orient":"right","values":[16,20,24,28,32,36],"labels":false,"tickSize":-8,"offset":-11}},"text":{"field":"t"}}}],"resolve":{"axis":{"x":"independent","y":"independent"}}},
{"width":344,"height":153,"layer":[{"data":{"name":"SEP"},"mark":"area","encoding":{"x":{"field":"x","type":"quantitative","scale":{"domain":[-90,90],"nice":false,"range":[0,344]},"axis":{"orient":"bottom","values":[-90,-84,-78,-72,-66,-60,-54,-48,-42,-36,-30,-24,-18,-12,-6,0,6,12,18,24,30,36,42,48,54,60,66,72,78,84,90],"labels":false,"tickSize":{"condition":{"test":"datum.value%30==0","value":-7},"value":-3}}},"y":{"field":"a","type":"quantitative","scale":{"domain":[16,36],"nice":false},"axis":{"orient":"left","values":[16,20,24,28,32,36],"tickSize":-8,"labels":false}},"y2":{"field":"b"},"detail":{"field":"s"},"color":{"field":"l","type":"ordinal","scale":{"domain":[0,1,2,3,4,5,6,7,8,9],"range":["#0022aa","#0033ff","#0077ff","#00bbff","#00ffff","#00ffaa","#99ff55","#ffff00","#ffaa00","#ff6600"]},"legend":null}}},{"data":{"values":[{"t":"SEP"}]},"mark":"text","encoding":{"x":{"datum":0,"type":"quantitative","axis":{"orient":"top","values":[-90,-84,-78,-72,-66,-60,-54,-48,-42,-36,-30,-24,-18,-12,-6,0,6,12,18,24,30,36,42,48,54,60,66,72,78,84,90],"labels":false,"tickSize":{"condition":{"test":"datum.value%30==0","value":-7},"value":-3}}},"y":{"datum":34,"type":"quantitative","axis":{"orient":"right","values":[16,20,24,28,32,36],"labels":false,"tickSize":-8}},"text":{"field":"t"}}}],"resolve":{"axis":{"x":"independent","y":"independent"}}},
{"width":40,"height":153,"view":{"stroke":"black","strokeWidth":3},"data":{"name":"CB"},"mark":"rect","encoding":{"y":{"field":"a","type":"quantitative","scale":{"domain":[0,3],"nice":false},"axis":{"orient":"right","values":[0,1,2,3],"tickSize":-3,"labelPadding":8,"labelFontSize":22}},"y2":{"field":"b"},"color":{"field":"l","type":"ordinal","scale":{"domain":[0,1,2,3,4,5,6,7,8,9],"range":["#0022aa","#0033ff","#0077ff","#00bbff","#00ffff","#00ffaa","#99ff55","#ffff00","#ffaa00","#ff6600"]},"legend":null}}},
{"width":355,"height":153,"layer":[{"data":{"name":"OCT"},"mark":"area","encoding":{"x":{"field":"x","type":"quantitative","scale":{"domain":[-90,90],"nice":false,"range":[0,344]},"axis":{"orient":"bottom","values":[-90,-84,-78,-72,-66,-60,-54,-48,-42,-36,-30,-24,-18,-12,-6,0,6,12,18,24,30,36,42,48,54,60,66,72,78,84,90],"labelExpr":"datum.value%30==0?format(datum.value,'d'):''","labelPadding":15,"tickSize":{"condition":{"test":"datum.value%30==0","value":-7},"value":-3}}},"y":{"field":"a","type":"quantitative","scale":{"domain":[16,36],"nice":false},"axis":{"orient":"left","values":[16,20,24,28,32,36],"tickSize":-8,"labelPadding":15}},"y2":{"field":"b"},"detail":{"field":"s"},"color":{"field":"l","type":"ordinal","scale":{"domain":[0,1,2,3,4,5,6,7,8,9],"range":["#0022aa","#0033ff","#0077ff","#00bbff","#00ffff","#00ffaa","#99ff55","#ffff00","#ffaa00","#ff6600"]},"legend":null}}},{"data":{"values":[{"t":"OCT"}]},"mark":"text","encoding":{"x":{"datum":0,"type":"quantitative","axis":{"orient":"top","values":[-90,-84,-78,-72,-66,-60,-54,-48,-42,-36,-30,-24,-18,-12,-6,0,6,12,18,24,30,36,42,48,54,60,66,72,78,84,90],"labels":false,"tickSize":{"condition":{"test":"datum.value%30==0","value":-7},"value":-3}}},"y":{"datum":34,"type":"quantitative","axis":{"orient":"right","values":[16,20,24,28,32,36],"labels":false,"tickSize":-8,"offset":-11}},"text":{"field":"t"}}}],"resolve":{"axis":{"x":"independent","y":"independent"}}},
{"width":355,"height":153,"layer":[{"data":{"name":"NOV"},"mark":"area","encoding":{"x":{"field":"x","type":"quantitative","scale":{"domain":[-90,90],"nice":false,"range":[0,344]},"axis":{"orient":"bottom","values":[-90,-84,-78,-72,-66,-60,-54,-48,-42,-36,-30,-24,-18,-12,-6,0,6,12,18,24,30,36,42,48,54,60,66,72,78,84,90],"labelExpr":"datum.value%30==0?format(datum.value,'d'):''","labelPadding":15,"tickSize":{"condition":{"test":"datum.value%30==0","value":-7},"value":-3},"title":"Latitude (ᵒ)","titleX":172,"titleY":56,"titleBaseline":"middle"}},"y":{"field":"a","type":"quantitative","scale":{"domain":[16,36],"nice":false},"axis":{"orient":"left","values":[16,20,24,28,32,36],"tickSize":-8,"labels":false}},"y2":{"field":"b"},"detail":{"field":"s"},"color":{"field":"l","type":"ordinal","scale":{"domain":[0,1,2,3,4,5,6,7,8,9],"range":["#0022aa","#0033ff","#0077ff","#00bbff","#00ffff","#00ffaa","#99ff55","#ffff00","#ffaa00","#ff6600"]},"legend":null}}},{"data":{"values":[{"t":"NOV"}]},"mark":"text","encoding":{"x":{"datum":0,"type":"quantitative","axis":{"orient":"top","values":[-90,-84,-78,-72,-66,-60,-54,-48,-42,-36,-30,-24,-18,-12,-6,0,6,12,18,24,30,36,42,48,54,60,66,72,78,84,90],"labels":false,"tickSize":{"condition":{"test":"datum.value%30==0","value":-7},"value":-3}}},"y":{"datum":34,"type":"quantitative","axis":{"orient":"right","values":[16,20,24,28,32,36],"labels":false,"tickSize":-8,"offset":-11}},"text":{"field":"t"}}}],"resolve":{"axis":{"x":"independent","y":"independent"}}},
{"width":344,"height":153,"layer":[{"data":{"name":"DEC"},"mark":"area","encoding":{"x":{"field":"x","type":"quantitative","scale":{"domain":[-90,90],"nice":false,"range":[0,344]},"axis":{"orient":"bottom","values":[-90,-84,-78,-72,-66,-60,-54,-48,-42,-36,-30,-24,-18,-12,-6,0,6,12,18,24,30,36,42,48,54,60,66,72,78,84,90],"labelExpr":"datum.value%30==0?format(datum.value,'d'):''","labelPadding":15,"tickSize":{"condition":{"test":"datum.value%30==0","value":-7},"value":-3}}},"y":{"field":"a","type":"quantitative","scale":{"domain":[16,36],"nice":false},"axis":{"orient":"left","values":[16,20,24,28,32,36],"tickSize":-8,"labels":false}},"y2":{"field":"b"},"detail":{"field":"s"},"color":{"field":"l","type":"ordinal","scale":{"domain":[0,1,2,3,4,5,6,7,8,9],"range":["#0022aa","#0033ff","#0077ff","#00bbff","#00ffff","#00ffaa","#99ff55","#ffff00","#ffaa00","#ff6600"]},"legend":null}}},{"data":{"values":[{"t":"DEC"}]},"mark":"text","encoding":{"x":{"datum":0,"type":"quantitative","axis":{"orient":"top","values":[-90,-84,-78,-72,-66,-60,-54,-48,-42,-36,-30,-24,-18,-12,-6,0,6,12,18,24,30,36,42,48,54,60,66,72,78,84,90],"labels":false,"tickSize":{"condition":{"test":"datum.value%30==0","value":-7},"value":-3}}},"y":{"datum":34,"type":"quantitative","axis":{"orient":"right","values":[16,20,24,28,32,36],"labels":false,"tickSize":-8}},"text":{"field":"t"}}}],"resolve":{"axis":{"x":"independent","y":"independent"}}},
{"width":40,"height":153,"view":{"stroke":"black","strokeWidth":3},"data":{"name":"CB"},"mark":"rect","encoding":{"y":{"field":"a","type":"quantitative","scale":{"domain":[0,3],"nice":false},"axis":{"orient":"right","values":[0,1,2,3],"tickSize":-3,"labelPadding":8,"labelFontSize":22}},"y2":{"field":"b"},"color":{"field":"l","type":"ordinal","scale":{"domain":[0,1,2,3,4,5,6,7,8,9],"range":["#0022aa","#0033ff","#0077ff","#00bbff","#00ffff","#00ffaa","#99ff55","#ffff00","#ffaa00","#ff6600"]},"legend":null}}}
],"columns":4,"spacing":{"row":28,"column":34},"bounds":"flush"}
